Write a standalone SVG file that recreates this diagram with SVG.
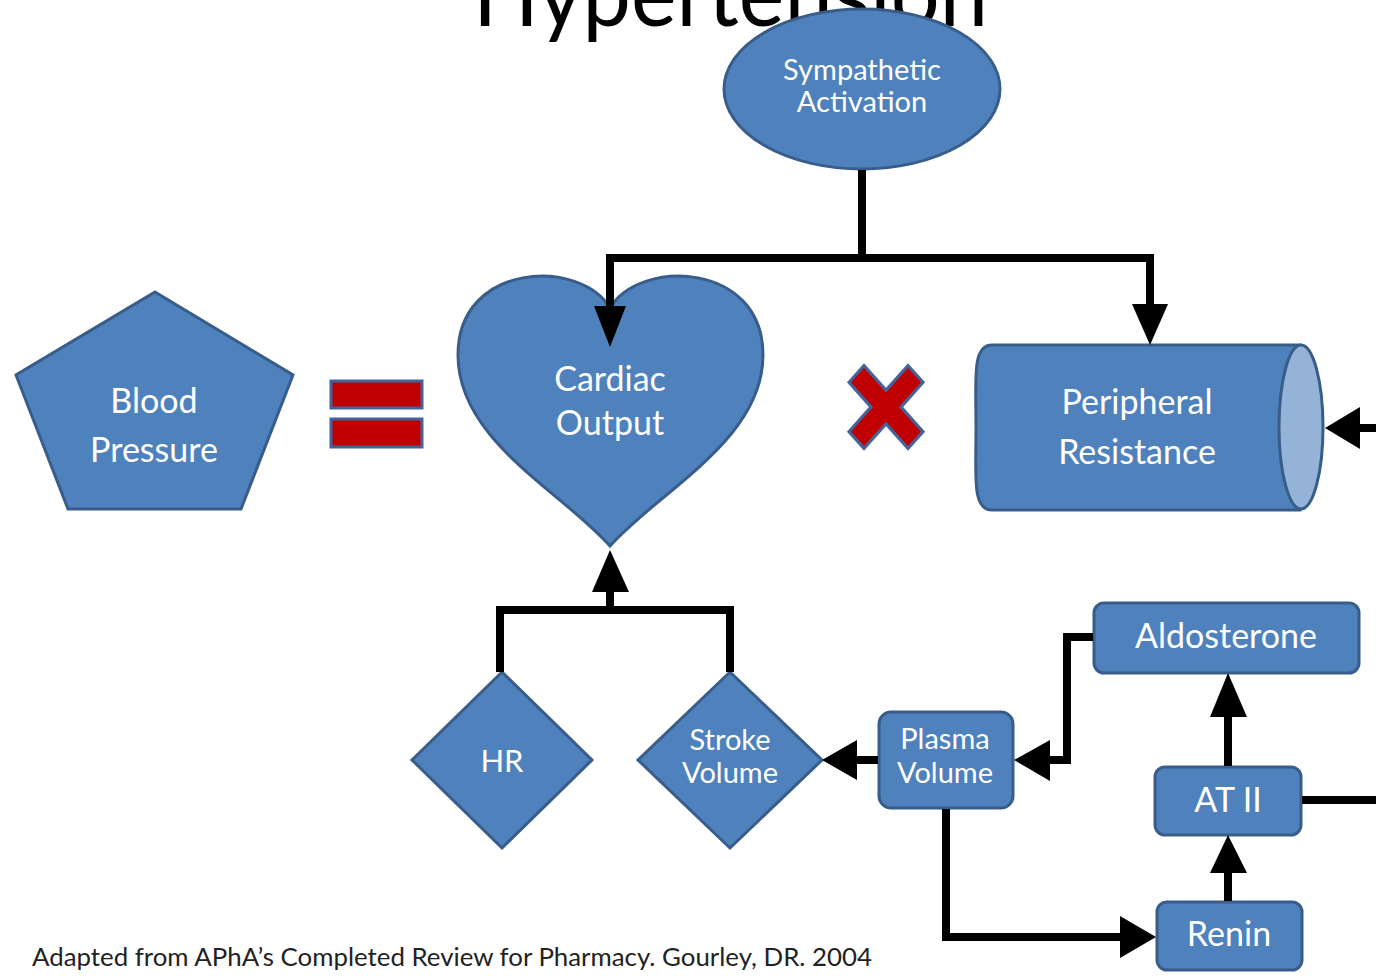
<svg xmlns="http://www.w3.org/2000/svg" width="1376" height="976" viewBox="0 0 1376 976">
  <defs>
    <style>
      .node { fill: #4F81BD; stroke: #385D8A; stroke-width: 3; }
      .lbl { font-family: Lato, "Open Sans", "Liberation Sans", sans-serif; fill: #FFFFFF; text-anchor: middle; }
      .conn { fill: none; stroke: #000000; stroke-width: 8; stroke-linejoin: miter; }
      .head { fill: #000000; }
      .red { fill: #C00000; stroke: #44639A; stroke-width: 3; }
    </style>
  </defs>
  <rect width="1376" height="976" fill="#FFFFFF"/>

  <text x="473" y="26" font-family="Lato, 'Open Sans', 'Liberation Sans', sans-serif" font-size="92" fill="#000000" textLength="515" lengthAdjust="spacingAndGlyphs">Hypertension</text>

  <g id="sympathetic">
    <ellipse class="node" cx="862" cy="89" rx="138" ry="80"/>
    <text class="lbl" x="862" y="80" font-size="29">Sympathetic</text>
    <text class="lbl" x="862" y="112" font-size="29">Activation</text>
  </g>

  <g id="blood-pressure">
    <polygon class="node" points="155,292 293,375 241,509 68,509 16,375"/>
    <text class="lbl" x="154" y="413" font-size="34">Blood</text>
    <text class="lbl" x="154" y="462" font-size="34">Pressure</text>
  </g>

  <g id="equals">
    <rect class="red" x="331" y="381" width="91" height="27"/>
    <rect class="red" x="331" y="419" width="91" height="28"/>
  </g>

  <g id="cardiac-output">
    <path class="node" d="M610,308 C640,258 763,262 763,355 C763,440 660,490 610,546 C560,490 458,440 458,355 C458,262 580,258 610,308 Z"/>
    <text class="lbl" x="610" y="391" font-size="34">Cardiac</text>
    <text class="lbl" x="610" y="435" font-size="34">Output</text>
  </g>

  <g id="times">
    <polygon class="red" transform="translate(886,407) scale(1,1.12)" points="-37,-22 -22,-37 0,-15 22,-37 37,-22 15,0 37,22 22,37 0,15 -22,37 -37,22 -15,0"/>
  </g>

  <g id="peripheral-resistance">
    <path class="node" d="M1300,345 H992 C972,345 976,378 976,428 C976,478 972,510 992,510 H1300 Z"/>
    <ellipse cx="1301" cy="427" rx="22" ry="82" fill="#95B3D7" stroke="#385D8A" stroke-width="3"/>
    <text class="lbl" x="1137" y="414" font-size="34">Peripheral</text>
    <text class="lbl" x="1137" y="464" font-size="34">Resistance</text>
  </g>

  <g id="hr">
    <polygon class="node" points="502,672 592,760 502,848 412,760"/>
    <text class="lbl" x="502" y="772" font-size="31">HR</text>
  </g>

  <g id="stroke-volume">
    <polygon class="node" points="730,672 822,760 730,848 638,760"/>
    <text class="lbl" x="730" y="750" font-size="29">Stroke</text>
    <text class="lbl" x="730" y="783" font-size="29">Volume</text>
  </g>

  <g id="plasma-volume">
    <rect class="node" x="879" y="712" width="134" height="96" rx="12"/>
    <text class="lbl" x="945" y="749" font-size="29">Plasma</text>
    <text class="lbl" x="945" y="783" font-size="29">Volume</text>
  </g>

  <g id="aldosterone">
    <rect class="node" x="1094" y="603" width="265" height="70" rx="10"/>
    <text class="lbl" x="1226" y="648" font-size="34">Aldosterone</text>
  </g>

  <g id="at-ii">
    <rect class="node" x="1155" y="767" width="146" height="68" rx="10"/>
    <text class="lbl" x="1228" y="812" font-size="34">AT II</text>
  </g>

  <g id="renin">
    <rect class="node" x="1157" y="902" width="145" height="68" rx="10"/>
    <text class="lbl" x="1229" y="946" font-size="34">Renin</text>
  </g>

  <g id="connectors">
    <path class="conn" d="M862,170 V258 M610,258 H1150 M610,254 V310 M1150,254 V310"/>
    <polygon class="head" points="594,306 626,306 610,347"/>
    <polygon class="head" points="1132,304 1168,304 1150,345"/>
    <path class="conn" d="M1376,428 H1355"/>
    <polygon class="head" points="1360,407 1360,449 1325,428"/>
    <path class="conn" d="M500,672 V610 H730 V672 M610,610 V585"/>
    <polygon class="head" points="592,592 629,592 610,550"/>
    <path class="conn" d="M878,760 H852"/>
    <polygon class="head" points="857,740 857,780 822,760"/>
    <path class="conn" d="M1093,637 H1067 V760 H1045"/>
    <polygon class="head" points="1050,740 1050,781 1014,760"/>
    <path class="conn" d="M946,809 V937 H1125"/>
    <polygon class="head" points="1120,916 1120,958 1156,937"/>
    <path class="conn" d="M1228,901 V868"/>
    <polygon class="head" points="1210,873 1247,873 1228,835"/>
    <path class="conn" d="M1228,766 V712"/>
    <polygon class="head" points="1210,717 1247,717 1228,673"/>
    <path class="conn" d="M1302,800 H1376"/>
  </g>

  <text x="32" y="966" font-family="Lato, 'Open Sans', 'Liberation Sans', sans-serif" font-size="25" fill="#222222" textLength="840" lengthAdjust="spacingAndGlyphs">Adapted from APhA’s Completed  Review for Pharmacy.  Gourley, DR. 2004</text>
</svg>
